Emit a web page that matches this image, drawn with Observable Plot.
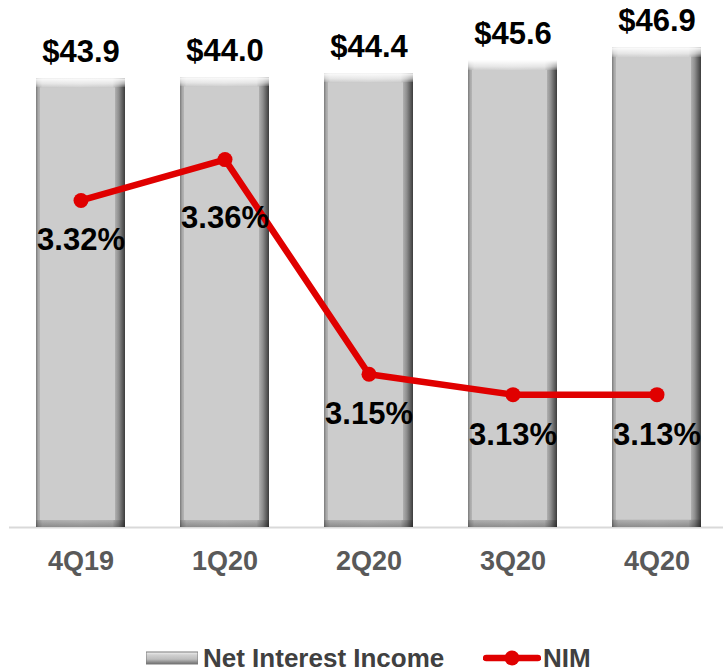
<!DOCTYPE html>
<html>
<head>
<meta charset="utf-8">
<script src="https://cdn.jsdelivr.net/npm/d3@7"></script>
<script src="https://cdn.jsdelivr.net/npm/@observablehq/plot@0.6"></script>
<style>
  html, body { margin: 0; padding: 0; background: #fff; }
  body { width: 723px; height: 672px; font-family: "Liberation Sans", Arial, sans-serif; }
  #legend { position: relative; height: 22px; margin-top: 27px; font-weight: bold; font-size: 26px; color: #404040; }
  #legend .item { position: absolute; top: 0; display: flex; align-items: center; height: 22px; line-height: 22px; }
</style>
</head>
<body>
<div id="chart"></div>
<div id="legend"></div>
<script>
// Data
const quarters = ["4Q19", "1Q20", "2Q20", "3Q20", "4Q20"];
const netInterestIncome = [43.9, 44.0, 44.4, 45.6, 46.9];
const nim = [3.32, 3.36, 3.15, 3.13, 3.13];
const incomeLabels = ["$43.9", "$44.0", "$44.4", "$45.6", "$46.9"];
const nimLabels = ["3.32%", "3.36%", "3.15%", "3.13%", "3.13%"];
const seriesNames = ["Net Interest Income", "NIM"];

// Secondary axis (NIM) mapped onto the bar scale: NIM 3.0–3.5 ↔ 0–50
const nimBase = 3.0, nimFactor = 100;
const rows = quarters.map((q, i) => ({
  q, nii: netInterestIncome[i], nim: nim[i], nimY: (nim[i] - nimBase) * nimFactor,
  incomeLabel: incomeLabels[i], nimLabel: nimLabels[i]
}));

const RED = "#e00000";
const FONT = "'Liberation Sans', Arial, sans-serif";

const defs = () => {
  const svg = d3.create("svg:g");
  const d = svg.append("defs");
  const gh = d.append("linearGradient").attr("id", "gH").attr("x1", 0).attr("x2", 1).attr("y1", 0).attr("y2", 0);
  [[0, "#7a7a7a"], [0.025, "#a8a8a8"], [0.07, "#c6c6c6"], [0.5, "#cccccc"], [0.86, "#c6c6c6"], [0.93, "#8e8e8e"], [1, "#3c3c3c"]]
    .forEach(([o, c]) => gh.append("stop").attr("offset", o).attr("stop-color", c));
  const gv = d.append("linearGradient").attr("id", "gV").attr("x1", 0).attr("x2", 0).attr("y1", 0).attr("y2", 1);
  [[0, "#ffffff", 0.95], [0.012, "#ffffff", 0.55], [0.019, "#ffffff", 0.15], [0.02, "#ffffff", 0],
   [0.984, "#000000", 0], [0.985, "#000000", 0.12], [1, "#000000", 0.3]]
    .forEach(([o, c, a]) => gv.append("stop").attr("offset", o).attr("stop-color", c).attr("stop-opacity", a));
  const gl = d.append("linearGradient").attr("id", "gL").attr("x1", 0).attr("x2", 0).attr("y1", 0).attr("y2", 1);
  [[0, "#f2f2f2"], [0.25, "#d0d0d0"], [0.6, "#bdbdbd"], [1, "#6e6e6e"]]
    .forEach(([o, c]) => gl.append("stop").attr("offset", o).attr("stop-color", c));
  return svg.node();
};

const chart = Plot.plot({
  width: 723,
  height: 620,
  marginTop: 16,
  marginBottom: 93,
  marginLeft: 14,
  marginRight: 0,
  style: { fontFamily: FONT, background: "#fff" },
  x: { domain: quarters, paddingInner: 0.38, paddingOuter: 0.15, label: null },
  y: { domain: [0, 50], axis: null },
  marks: [
    defs,
    Plot.ruleY([0], { stroke: "#d9d9d9", strokeWidth: 2, insetLeft: -5 }),
    Plot.barY(rows, { x: "q", y: "nii", fill: "url(#gH)" }),
    Plot.barY(rows, { x: "q", y: "nii", fill: "#cccccc", insetTop: 9, insetBottom: 7, insetLeft: 4, insetRight: 10 }),
    Plot.barY(rows, { x: "q", y: "nii", fill: "url(#gV)" }),
    Plot.text(rows, { x: "q", y: "nii", text: "incomeLabel", dy: -27, fontSize: 31, fontWeight: "bold", fill: "#000" }),
    Plot.line(rows, { x: "q", y: "nimY", stroke: RED, strokeWidth: 6.5, strokeLinejoin: "round" }),
    Plot.dot(rows, { x: "q", y: "nimY", r: 7.5, fill: RED, stroke: "none" }),
    Plot.text(rows, { filter: (d) => d.q !== "1Q20", x: "q", y: "nimY", text: "nimLabel", dy: 40, fontSize: 31, fontWeight: "bold", fill: "#000" }),
    Plot.text(rows, { filter: (d) => d.q === "1Q20", x: "q", y: "nimY", text: "nimLabel", dy: 58, fontSize: 31, fontWeight: "bold", fill: "#000" }),
    Plot.axisX({ tickSize: 0, tickPadding: 23, fontSize: 27, fontWeight: "bold", fill: "#595959", label: null })
  ]
});
document.getElementById("chart").appendChild(chart);

// Legend
const legend = d3.select("#legend");
const it1 = legend.append("div").attr("class", "item").style("left", "146px");
const s1 = it1.append("svg").attr("width", 52).attr("height", 14).style("margin-right", "5px");
s1.append("rect").attr("width", 52).attr("height", 12).attr("y", 1).attr("fill", "url(#gL)");
s1.append("rect").attr("width", 52).attr("height", 12).attr("y", 1).attr("fill", "none").attr("stroke", "#7a7a7a").attr("stroke-width", 1);
it1.append("span").text(seriesNames[0]);
const it2 = legend.append("div").attr("class", "item").style("left", "483px");
const s2 = it2.append("svg").attr("width", 58).attr("height", 18).style("margin-right", "2px");
s2.append("line").attr("x1", 3).attr("x2", 55).attr("y1", 9).attr("y2", 9).attr("stroke", RED).attr("stroke-width", 6.5).attr("stroke-linecap", "round");
s2.append("circle").attr("cx", 29).attr("cy", 9).attr("r", 7.5).attr("fill", RED);
it2.append("span").text(seriesNames[1]);
</script>
</body>
</html>
